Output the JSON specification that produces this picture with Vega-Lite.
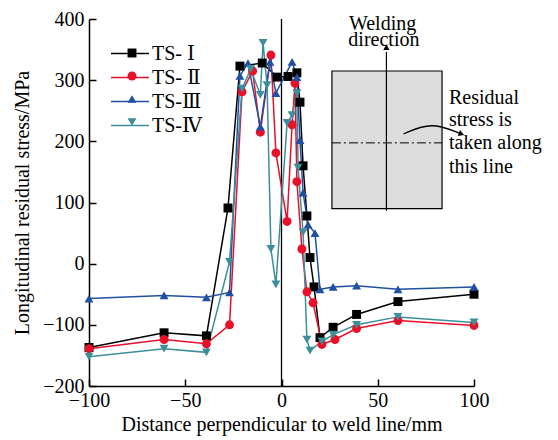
{
 "$schema": "https://vega.github.io/schema/vega-lite/v6.json",
 "width": 385, "height": 367,
 "autosize": {"type": "none"},
 "padding": {"left": 89, "top": 19, "right": 84, "bottom": 54},
 "background": "white",
 "config": {
  "view": {"stroke": null},
  "font": "Liberation Serif",
  "legend": {"labelFont": "Liberation Serif, DejaVu Serif, serif", "labelFontSize": 20, "labelColor": "black"},
  "axis": {"domainColor": "black", "domainWidth": 1.5, "tickColor": "black", "tickWidth": 1.5, "tickSize": -7, "grid": false, "labelFlush": false,
           "labelFont": "Liberation Serif", "labelFontSize": 20, "labelColor": "black",
           "titleFont": "Liberation Serif", "titleFontSize": 20, "titleFontWeight": "normal", "titleColor": "black"}
 },
 "datasets": {
  "stress": [
   {"x": -100, "y": -137, "series": "TS- Ⅰ"}, {"x": -61, "y": -113, "series": "TS- Ⅰ"}, {"x": -39, "y": -118, "series": "TS- Ⅰ"},
   {"x": -27.8, "y": 91, "series": "TS- Ⅰ"}, {"x": -21.6, "y": 323, "series": "TS- Ⅰ"}, {"x": -10, "y": 328, "series": "TS- Ⅰ"},
   {"x": -2.3, "y": 305, "series": "TS- Ⅰ"}, {"x": 3.4, "y": 306, "series": "TS- Ⅰ"}, {"x": 8, "y": 312, "series": "TS- Ⅰ"},
   {"x": 9.6, "y": 264, "series": "TS- Ⅰ"}, {"x": 11.2, "y": 160, "series": "TS- Ⅰ"}, {"x": 13.2, "y": 78, "series": "TS- Ⅰ"},
   {"x": 14.8, "y": 10, "series": "TS- Ⅰ"}, {"x": 16.9, "y": -38, "series": "TS- Ⅰ"}, {"x": 20, "y": -121, "series": "TS- Ⅰ"},
   {"x": 26.8, "y": -104, "series": "TS- Ⅰ"}, {"x": 39, "y": -83, "series": "TS- Ⅰ"}, {"x": 60.5, "y": -62, "series": "TS- Ⅰ"},
   {"x": 100, "y": -50, "series": "TS- Ⅰ"},

   {"x": -100, "y": -139, "series": "TS- Ⅱ"}, {"x": -61, "y": -124, "series": "TS- Ⅱ"}, {"x": -39, "y": -131, "series": "TS- Ⅱ"},
   {"x": -27, "y": -100, "series": "TS- Ⅱ"}, {"x": -20.5, "y": 281, "series": "TS- Ⅱ"}, {"x": -15, "y": 315, "series": "TS- Ⅱ"},
   {"x": -11, "y": 215, "series": "TS- Ⅱ"}, {"x": -5.5, "y": 341, "series": "TS- Ⅱ"}, {"x": -2.9, "y": 181, "series": "TS- Ⅱ"},
   {"x": 2.9, "y": 69, "series": "TS- Ⅱ"}, {"x": 5.5, "y": 227, "series": "TS- Ⅱ"}, {"x": 7, "y": 295, "series": "TS- Ⅱ"},
   {"x": 8, "y": 134, "series": "TS- Ⅱ"}, {"x": 10.6, "y": 24, "series": "TS- Ⅱ"}, {"x": 13.2, "y": -46, "series": "TS- Ⅱ"},
   {"x": 16.4, "y": -64, "series": "TS- Ⅱ"}, {"x": 21, "y": -132, "series": "TS- Ⅱ"}, {"x": 27.8, "y": -124, "series": "TS- Ⅱ"},
   {"x": 39, "y": -106, "series": "TS- Ⅱ"}, {"x": 60.5, "y": -93, "series": "TS- Ⅱ"}, {"x": 100, "y": -101, "series": "TS- Ⅱ"},

   {"x": -100, "y": -57, "series": "TS-Ⅲ"}, {"x": -61, "y": -52, "series": "TS-Ⅲ"}, {"x": -39, "y": -55, "series": "TS-Ⅲ"},
   {"x": -27, "y": -47, "series": "TS-Ⅲ"}, {"x": -21.6, "y": 307, "series": "TS-Ⅲ"}, {"x": -17.4, "y": 328, "series": "TS-Ⅲ"},
   {"x": -11, "y": 224, "series": "TS-Ⅲ"}, {"x": -6, "y": 330, "series": "TS-Ⅲ"}, {"x": -2.9, "y": 279, "series": "TS-Ⅲ"},
   {"x": 5.5, "y": 330, "series": "TS-Ⅲ"}, {"x": 8, "y": 305, "series": "TS-Ⅲ"}, {"x": 9.6, "y": 202, "series": "TS-Ⅲ"},
   {"x": 11.2, "y": 116, "series": "TS-Ⅲ"}, {"x": 13.8, "y": 64, "series": "TS-Ⅲ"}, {"x": 17.4, "y": 50, "series": "TS-Ⅲ"},
   {"x": 20, "y": -42, "series": "TS-Ⅲ"}, {"x": 26.8, "y": -38, "series": "TS-Ⅲ"}, {"x": 39, "y": -36, "series": "TS-Ⅲ"},
   {"x": 60.5, "y": -42, "series": "TS-Ⅲ"}, {"x": 100, "y": -38, "series": "TS-Ⅲ"},

   {"x": -100, "y": -152, "series": "TS-Ⅳ"}, {"x": -61, "y": -139, "series": "TS-Ⅳ"}, {"x": -39, "y": -145, "series": "TS-Ⅳ"},
   {"x": -27, "y": 3, "series": "TS-Ⅳ"}, {"x": -20.5, "y": 286, "series": "TS-Ⅳ"}, {"x": -16, "y": 318, "series": "TS-Ⅳ"},
   {"x": -11, "y": 276, "series": "TS-Ⅳ"}, {"x": -9.6, "y": 361, "series": "TS-Ⅳ"}, {"x": -7.5, "y": 292, "series": "TS-Ⅳ"},
   {"x": -5.5, "y": 24, "series": "TS-Ⅳ"}, {"x": -2.9, "y": -34, "series": "TS-Ⅳ"}, {"x": 2.9, "y": 230, "series": "TS-Ⅳ"},
   {"x": 5.5, "y": 243, "series": "TS-Ⅳ"}, {"x": 8, "y": 279, "series": "TS-Ⅳ"}, {"x": 8.6, "y": 157, "series": "TS-Ⅳ"},
   {"x": 11.2, "y": 51, "series": "TS-Ⅳ"}, {"x": 13.2, "y": -124, "series": "TS-Ⅳ"}, {"x": 14.8, "y": -142, "series": "TS-Ⅳ"},
   {"x": 21, "y": -127, "series": "TS-Ⅳ"}, {"x": 26.8, "y": -116, "series": "TS-Ⅳ"}, {"x": 39, "y": -100, "series": "TS-Ⅳ"},
   {"x": 60.5, "y": -87, "series": "TS-Ⅳ"}, {"x": 100, "y": -96, "series": "TS-Ⅳ"}
  ]
 },
 "encoding": {
  "x": {"field": "x", "type": "quantitative", "scale": {"domain": [-100, 100], "nice": false},
        "axis": {"values": [-100, -50, 0, 50, 100], "title": "Distance perpendicular to weld line/mm", "labelPadding": 11, "titlePadding": 4}},
  "y": {"field": "y", "type": "quantitative", "scale": {"domain": [-200, 400], "nice": false},
        "axis": {"values": [-200, -100, 0, 100, 200, 300, 400], "title": "Longitudinal residual stress/MPa", "labelPadding": 12, "titlePadding": 10}}
 },
 "layer": [
  {
   "data": {"values": [{"x": 26.2, "x2": 83.4, "y": 315, "y2": 90}]},
   "mark": {"type": "rect", "fill": "#dcdcdc", "stroke": "black", "strokeWidth": 1.2},
   "encoding": {"x2": {"field": "x2"}, "y2": {"field": "y2"}}
  },
  {
   "data": {"values": [{"x": 54.5, "y": 86.5, "y2": 346}]},
   "mark": {"type": "rule", "color": "black", "strokeWidth": 1.2},
   "encoding": {"y2": {"field": "y2"}}
  },
  {
   "data": {"values": [{"x": 54.5, "y": 354}]},
   "mark": {"type": "point", "shape": "triangle-up", "filled": true, "color": "black", "size": 40, "opacity": 1},
   "encoding": {}
  },
  {
   "data": {"values": [{"x": 26.2, "x2": 83.4, "y": 197.5}]},
   "mark": {"type": "rule", "color": "black", "strokeWidth": 1, "strokeDash": [9, 3, 2, 3]},
   "encoding": {"x2": {"field": "x2"}}
  },
  {
   "data": {"values": [{"x": 63.4, "y": 212}, {"x": 78, "y": 232}, {"x": 92.5, "y": 213}]},
   "mark": {"type": "line", "color": "black", "strokeWidth": 1.3, "interpolate": "basis"},
   "encoding": {}
  },
  {
   "data": {"values": [{"x": 93.5, "y": 212}]},
   "mark": {"type": "point", "shape": "triangle-right", "filled": true, "color": "black", "size": 40, "angle": 20, "opacity": 1},
   "encoding": {}
  },
  {
   "data": {"values": [{"x": 52.5, "y": 392, "t": "Welding"}, {"x": 53.2, "y": 366, "t": "direction"}]},
   "mark": {"type": "text", "font": "Liberation Serif", "fontSize": 20, "align": "center", "baseline": "middle", "color": "black"},
   "encoding": {"text": {"field": "t"}}
  },
  {
   "data": {"values": [{"x": 87, "y": 271, "t": "Residual"}, {"x": 87, "y": 235, "t": "stress is"}, {"x": 87, "y": 197.5, "t": "taken along"}, {"x": 87, "y": 158, "t": "this line"}]},
   "mark": {"type": "text", "font": "Liberation Serif", "fontSize": 20, "align": "left", "baseline": "middle", "color": "black"},
   "encoding": {"text": {"field": "t"}}
  },
  {
   "data": {"values": [{"x": 0, "y": -200, "y2": 400}]},
   "mark": {"type": "rule", "color": "black", "strokeWidth": 1.3},
   "encoding": {"y2": {"field": "y2"}}
  },
  {
   "data": {"name": "stress"},
   "mark": {"type": "line", "strokeWidth": 1.5},
   "encoding": {
    "stroke": {"field": "series", "type": "nominal",
      "scale": {"domain": ["TS- Ⅰ", "TS- Ⅱ", "TS-Ⅲ", "TS-Ⅳ"], "range": ["#000000", "#e8102a", "#2050a2", "#3c8e9a"]},
      "legend": {"orient": "none", "legendX": 30.5, "legendY": 24, "title": null, "symbolType": "M-2,0H2", "symbolSize": 361, "symbolStrokeWidth": 1.5,
                 "labelFont": "Liberation Serif, DejaVu Serif, serif", "labelFontSize": 20, "labelColor": "black", "labelOffset": 11.5, "rowPadding": 3}}
   }
  },
  {
   "data": {"name": "stress"},
   "mark": {"type": "point", "filled": true, "opacity": 1, "size": 80},
   "encoding": {
    "fill": {"field": "series", "type": "nominal", "scale": {"range": ["#000000", "#e8102a", "#2050a2", "#3c8e9a"]},
      "legend": {"orient": "none", "legendX": 33, "legendY": 24, "title": null, "symbolSize": 80, "symbolStrokeWidth": 0, "symbolOpacity": 1,
                 "labelFont": "Liberation Serif, DejaVu Serif, serif", "labelFontSize": 20, "labelOpacity": 0, "labelOffset": 2, "rowPadding": 3}},
    "shape": {"field": "series", "type": "nominal", "scale": {"range": ["square", "circle", "triangle-up", "triangle-down"]}}
   }
  }
 ]
}
